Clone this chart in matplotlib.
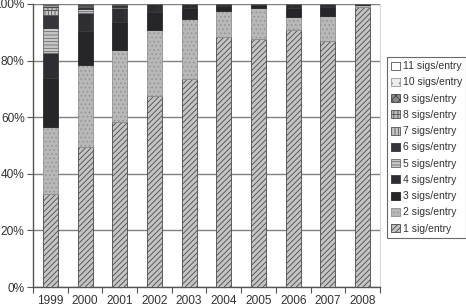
import matplotlib
matplotlib.use("Agg")
import matplotlib.pyplot as plt
import numpy as np

years = ["1999", "2000", "2001", "2002", "2003", "2004", "2005", "2006", "2007", "2008"]
series_names = ["1 sig/entry", "2 sigs/entry", "3 sigs/entry", "4 sigs/entry", "5 sigs/entry",
                "6 sigs/entry", "7 sigs/entry", "8 sigs/entry", "9 sigs/entry", "10 sigs/entry",
                "11 sigs/entry"]

# percentage share of each series per year
s1 = [33.0, 49.6, 58.4, 67.6, 73.5, 88.4, 87.8, 90.8, 86.9, 99.0]
s2 = [23.6, 28.8, 25.3, 23.2, 21.2, 9.1, 10.7, 4.7, 9.0, 0.7]
s3 = [17.4, 12.0, 10.0, 6.5, 4.0, 1.8, 1.1, 3.0, 3.0, 0.3]
s4 = [8.7, 6.4, 4.8, 2.7, 1.3, 0.7, 0.4, 1.5, 1.1, 0.0]
s5 = [8.8, 1.4, 0.6, 0.0, 0.0, 0.0, 0.0, 0.0, 0.0, 0.0]
s6 = [4.6, 0.8, 0.4, 0.0, 0.0, 0.0, 0.0, 0.0, 0.0, 0.0]
s7 = [1.8, 0.4, 0.3, 0.0, 0.0, 0.0, 0.0, 0.0, 0.0, 0.0]
s8 = [1.0, 0.3, 0.2, 0.0, 0.0, 0.0, 0.0, 0.0, 0.0, 0.0]
s9 = [0.5, 0.2, 0.0, 0.0, 0.0, 0.0, 0.0, 0.0, 0.0, 0.0]
s10 = [0.4, 0.1, 0.0, 0.0, 0.0, 0.0, 0.0, 0.0, 0.0, 0.0]
s11 = [0.2, 0.0, 0.0, 0.0, 0.0, 0.0, 0.0, 0.0, 0.0, 0.0]
series = [s1, s2, s3, s4, s5, s6, s7, s8, s9, s10, s11]

styles = [
    dict(facecolor="#c4c4c4", edgecolor="#4a4a4a", hatch="//////"),
    dict(facecolor="#b8b8b8", edgecolor="#909090", hatch="...."),
    dict(facecolor="#262628", edgecolor="#262628", hatch=None),
    dict(facecolor="#2e2e32", edgecolor="#3c3c40", hatch="|"),
    dict(facecolor="#c8c8c8", edgecolor="#6a6a6a", hatch="-----"),
    dict(facecolor="#35353a", edgecolor="#35353a", hatch=None),
    dict(facecolor="#c8c8c8", edgecolor="#555555", hatch="|||||"),
    dict(facecolor="#bcbcbc", edgecolor="#555555", hatch="++++"),
    dict(facecolor="#8a8a8a", edgecolor="#444444", hatch="xxxx"),
    dict(facecolor="#eeeeee", edgecolor="#999999", hatch=".."),
    dict(facecolor="#ffffff", edgecolor="#555555", hatch=None),
]

plt.rcParams["font.family"] = ["Liberation Sans", "DejaVu Sans"]
plt.rcParams["hatch.linewidth"] = 0.6

fig = plt.figure(figsize=(4.66, 3.06), dpi=100)
ax = fig.add_axes([33 / 466, 1 - 287 / 306, (380 - 33) / 466, (287 - 4) / 306])

x = np.arange(len(years))
bottom = np.zeros(len(years))
handles = []
for name, vals, st in zip(series_names, series, styles):
    vals = np.array(vals)
    b = ax.bar(x, vals, width=0.43, bottom=bottom, label=name,
               facecolor=st["facecolor"], edgecolor=st["edgecolor"],
               hatch=st["hatch"], linewidth=0.6, zorder=3)
    handles.append(b)
    bottom = bottom + vals

ax.set_xlim(-0.5, len(years) - 0.5)
ax.set_ylim(0, 100)
ax.set_yticks([0, 20, 40, 60, 80, 100])
ax.set_yticklabels(["0%", "20%", "40%", "60%", "80%", "100%"], fontsize=8.6, color="#333333")
ax.yaxis.grid(True, color="#808080", linewidth=1.0, zorder=0)

ax.set_xticks(np.arange(-0.5, len(years), 1.0))
ax.set_xticklabels([])
ax.set_xticks(x, minor=True)
ax.set_xticklabels(years, minor=True, fontsize=8.6, color="#333333")
ax.tick_params(axis="x", which="minor", length=0, pad=6)
ax.tick_params(axis="x", which="major", length=4, color="#555555", direction="out")
ax.tick_params(axis="y", length=4, color="#555555", direction="out", pad=2)

for side in ["left", "bottom"]:
    ax.spines[side].set_color("#555555")
    ax.spines[side].set_linewidth(1.0)
ax.spines["top"].set_visible(False)
ax.spines["right"].set_color("#d8d8d8")
ax.spines["right"].set_linewidth(0.8)

leg = fig.legend(handles[::-1], series_names[::-1], loc="upper left",
                 bbox_to_anchor=(387 / 466, 1 - 57 / 306), fontsize=7.5,
                 frameon=True, fancybox=False, edgecolor="#444444",
                 handlelength=0.8, handleheight=0.8, handletextpad=0.3,
                 labelspacing=0.6, borderpad=0.4, borderaxespad=0)
leg.get_frame().set_linewidth(0.8)
for t in leg.get_texts():
    t.set_color("#333333")

fig.savefig("out.png", dpi=100)
